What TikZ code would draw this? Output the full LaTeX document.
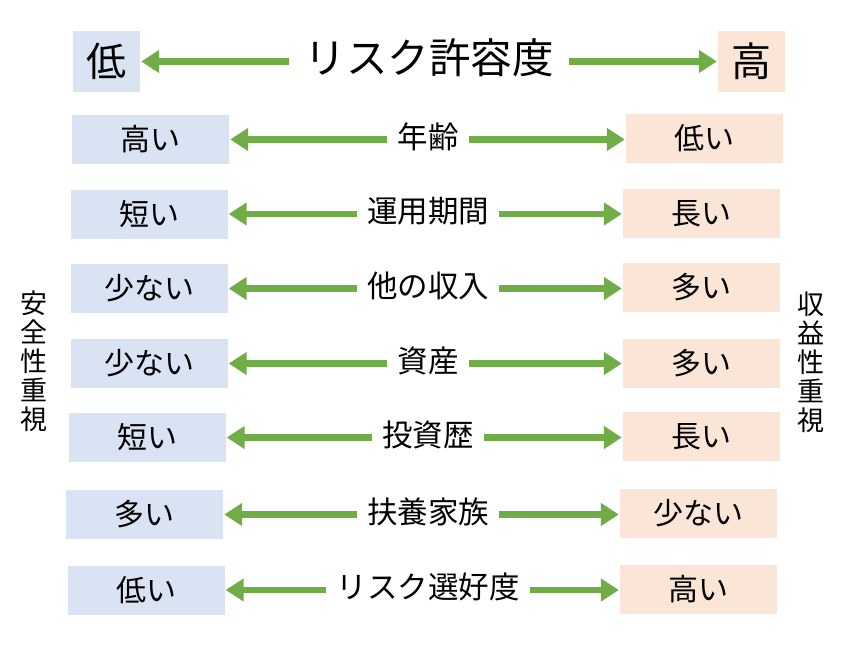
\documentclass[tikz,border=0pt]{standalone}
\usepackage{fontspec}
\setmainfont{Noto Sans CJK JP}
\usetikzlibrary{arrows.meta}
\definecolor{lowfill}{HTML}{DAE3F3}
\definecolor{highfill}{HTML}{FBE5D6}
\definecolor{arrowgreen}{HTML}{70AD47}
\begin{document}
\begin{tikzpicture}[x=1pt,y=-1pt,
  lowbox/.style={fill=lowfill,minimum width=157pt,minimum height=49pt,inner sep=0pt,font=\fontsize{30}{32}\selectfont},
  highbox/.style={fill=highfill,minimum width=157pt,minimum height=49pt,inner sep=0pt,font=\fontsize{30}{32}\selectfont},
  toplow/.style={fill=lowfill,minimum width=67pt,minimum height=61pt,inner sep=0pt,font=\fontsize{40}{42}\selectfont},
  tophigh/.style={fill=highfill,minimum width=67pt,minimum height=61pt,inner sep=0pt,font=\fontsize{40}{42}\selectfont},
  rowlabel/.style={inner xsep=10pt,inner ysep=0pt,font=\fontsize{30.5}{32}\selectfont},
  arr/.style={draw=arrowgreen,line width=6.5pt,-{Triangle[width=22pt,length=18pt]},shorten >=1pt},
  vtext/.style={align=center,inner sep=0pt,font=\fontsize{27}{29}\selectfont}
]
\useasboundingbox (0,0) rectangle (850,650);
\fill[white] (0,0) rectangle (850,650);

% top row
\node[toplow] (low) at (106.5,61.5) {低};
\node[tophigh] (high) at (751.5,61.5) {高};
\node[inner xsep=15pt,inner ysep=0pt,font=\fontsize{41.5}{44}\selectfont] (title) at (429,58) {リスク許容度};
\draw[arr] (title.west |- low.east) -- (low.east);
\draw[arr] (title.east |- high.west) -- (high.west);

% rows
\foreach \i/\ly/\lx/\ry/\rx/\lt/\mt/\rt in {
  1/139.5/150.5/138.5/704.5/高い/年齢/低い,
  2/214/149/213.5/701.5/短い/運用期間/長い,
  3/288.5/149/287.5/701.5/少ない/他の収入/多い,
  4/363.5/149/363/701.5/少ない/資産/多い,
  5/437.5/147/436.5/701.5/短い/投資歴/長い,
  6/514.5/144.5/513.5/698.5/多い/扶養家族/少ない,
  7/590/146/589/698.5/低い/リスク選好度/高い}{
  \node[lowbox] (L\i) at (\lx,\ly) {\lt};
  \node[highbox] (R\i) at (\rx,\ry) {\rt};
  \node[rowlabel] (M\i) at (428,\ly-3) {\mt};
  \draw[arr] (M\i.west |- L\i.east) -- (L\i.east);
  \draw[arr] (M\i.east |- L\i.east) -- (M\i.east |- L\i.east -| R\i.west);
}

% side labels
\node[vtext] (safe) at (34,361) {安\\全\\性\\重\\視};
\node[vtext] (yield) at (811,362) {収\\益\\性\\重\\視};
\end{tikzpicture}
\end{document}
